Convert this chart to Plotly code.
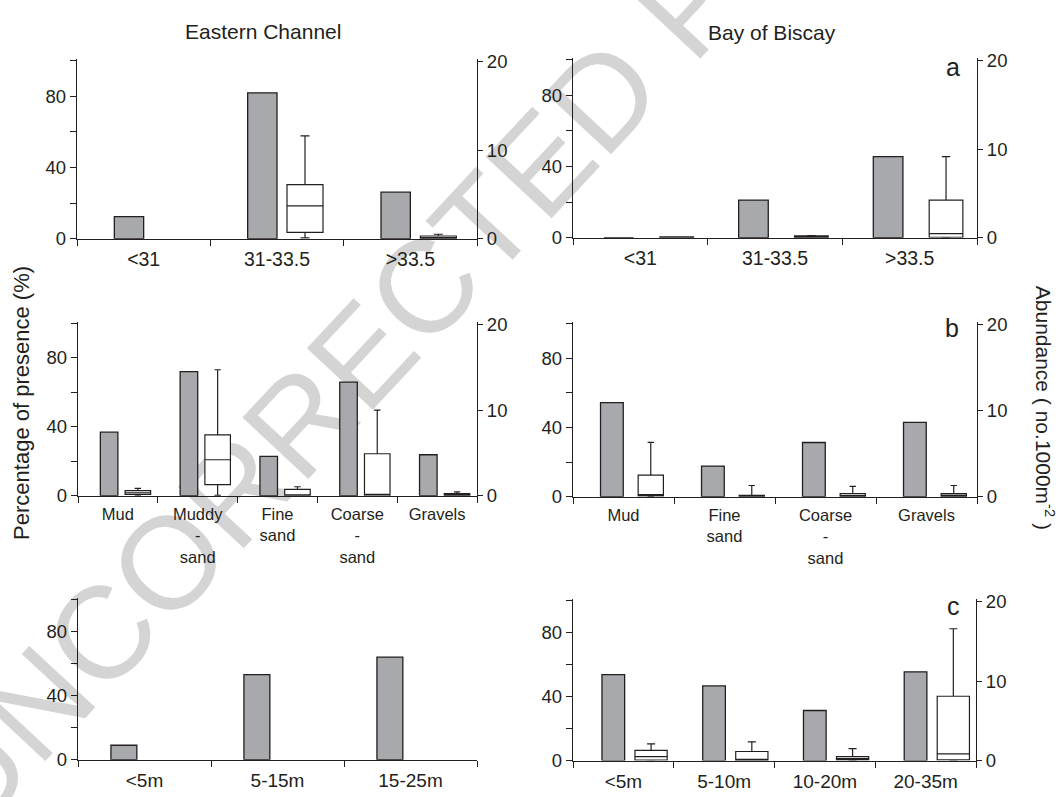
import plotly.graph_objects as go

W, H = 1059, 797

# ---------------- data ----------------
salinity_ec = ["<31", "31-33.5", ">33.5"]
presence_sal_ec = [12.4, 81.9, 26.1]
abund_sal_ec_q1 = [None, 0.7, 0.0]
abund_sal_ec_med = [None, 3.7, 0.05]
abund_sal_ec_q3 = [None, 6.1, 0.3]
abund_sal_ec_lo = [None, 0.1, 0.0]
abund_sal_ec_hi = [None, 11.6, 0.5]

salinity_bb = ["<31", "31-33.5", ">33.5"]
presence_sal_bb = [0.0, 21.1, 45.5]
abund_sal_bb_q1 = [0.0, 0.0, 0.05]
abund_sal_bb_med = [0.0, 0.05, 0.45]
abund_sal_bb_q3 = [0.1, 0.2, 4.25]
abund_sal_bb_lo = [0.0, 0.0, 0.0]
abund_sal_bb_hi = [0.1, 0.25, 9.15]

sediment_ec = ["Mud", "Muddy<br>-<br>sand", "Fine<br>sand", "Coarse<br>-<br>sand", "Gravels"]
presence_sed_ec = [36.9, 72.1, 22.9, 65.9, 23.8]
abund_sed_ec_q1 = [0.15, 1.3, 0.0, 0.0, 0.0]
abund_sed_ec_med = [0.35, 4.2, 0.05, 0.15, 0.1]
abund_sed_ec_q3 = [0.6, 7.1, 0.75, 4.9, 0.25]
abund_sed_ec_lo = [0.0, 0.05, 0.0, 0.0, 0.0]
abund_sed_ec_hi = [0.85, 14.7, 1.05, 10.0, 0.45]

sediment_bb = ["Mud", "Fine<br>sand", "Coarse<br>-<br>sand", "Gravels"]
presence_sed_bb = [54.3, 17.7, 31.3, 42.9]
abund_sed_bb_q1 = [0.1, 0.0, 0.0, 0.0]
abund_sed_bb_med = [0.25, 0.05, 0.1, 0.15]
abund_sed_bb_q3 = [2.5, 0.15, 0.35, 0.35]
abund_sed_bb_lo = [0.0, 0.0, 0.0, 0.0]
abund_sed_bb_hi = [6.3, 1.3, 1.2, 1.3]

depth_ec = ["<5m", "5-15m", "15-25m"]
presence_dep_ec = [9.0, 53.2, 64.2]

depth_bb = ["<5m", "5-10m", "10-20m", "20-35m"]
presence_dep_bb = [53.8, 46.8, 31.4, 55.6]
abund_dep_bb_q1 = [0.05, 0.0, 0.1, 0.1]
abund_dep_bb_med = [0.5, 0.15, 0.25, 0.85]
abund_dep_bb_q3 = [1.3, 1.15, 0.5, 8.1]
abund_dep_bb_lo = [0.0, 0.0, 0.0, 0.0]
abund_dep_bb_hi = [2.1, 2.35, 1.5, 16.6]

left_ticks = [0, 20, 40, 60, 80, 100]
left_ticktext = ["0", "", "40", "", "80", ""]
right_ticks = [0, 10, 20]

# ---------------- styling / layout ----------------
FONT = "Liberation Sans, Arial, Helvetica, sans-serif"
INK = "#231f20"
BAR_GRAY = "#a7a9ac"

panels = [
    dict(cats=salinity_ec, pres=presence_sal_ec,
         box=(abund_sal_ec_q1, abund_sal_ec_med, abund_sal_ec_q3, abund_sal_ec_lo, abund_sal_ec_hi),
         px=(77, 477), py=(52, 236), goff=0.39, gw=0.22, boff=0.71, bw=0.27, fs=19.5),
    dict(cats=salinity_bb, pres=presence_sal_bb,
         box=(abund_sal_bb_q1, abund_sal_bb_med, abund_sal_bb_q3, abund_sal_bb_lo, abund_sal_bb_hi),
         px=(573, 977), py=(51, 235), goff=0.34, gw=0.22, boff=0.77, bw=0.25, fs=19.5),
    dict(cats=sediment_ec, pres=presence_sed_ec,
         box=(abund_sed_ec_q1, abund_sed_ec_med, abund_sed_ec_q3, abund_sed_ec_lo, abund_sed_ec_hi),
         px=(78, 477), py=(321, 499), goff=0.39, gw=0.22, boff=0.75, bw=0.32, fs=16.5),
    dict(cats=sediment_bb, pres=presence_sed_bb,
         box=(abund_sed_bb_q1, abund_sed_bb_med, abund_sed_bb_q3, abund_sed_bb_lo, abund_sed_bb_hi),
         px=(573, 977), py=(321, 500), goff=0.385, gw=0.225, boff=0.77, bw=0.25, fs=16.5),
    dict(cats=depth_ec, pres=presence_dep_ec, box=None,
         px=(78, 477), py=(604, 769), goff=0.345, gw=0.195, boff=0.7, bw=0.25, fs=19),
    dict(cats=depth_bb, pres=presence_dep_bb,
         box=(abund_dep_bb_q1, abund_dep_bb_med, abund_dep_bb_q3, abund_dep_bb_lo, abund_dep_bb_hi),
         px=(573, 976), py=(605, 770), goff=0.4, gw=0.225, boff=0.775, bw=0.32, fs=19),
]

fig = go.Figure()
layout = dict(
    width=W, height=H,
    margin=dict(l=0, r=0, t=0, b=0),
    paper_bgcolor="white", plot_bgcolor="rgba(0,0,0,0)",
    showlegend=False,
    font=dict(family=FONT, size=18, color=INK),
)

for i, p in enumerate(panels):
    n = len(p["cats"])
    xname = "x" if i == 0 else f"x{i+1}"
    yl = "y" if i == 0 else f"y{2*i+1}"
    yr = f"y{2*i+2}"
    xkey = "xaxis" if i == 0 else f"xaxis{i+1}"
    ylkey = "yaxis" if i == 0 else f"yaxis{2*i+1}"
    yrkey = f"yaxis{2*i+2}"

    dom_x = [p["px"][0] / W, p["px"][1] / W]
    dom_y = [1 - p["py"][1] / H, 1 - p["py"][0] / H]

    layout[xkey] = dict(
        domain=dom_x, range=[0, n], anchor=yl,
        showline=True, linecolor=INK, linewidth=1.3,
        showgrid=False, zeroline=False,
        tickmode="array", tickvals=[k + 0.5 for k in range(n)], ticktext=p["cats"],
        ticks="", ticklabelstandoff=3,
        tickfont=dict(size=p["fs"]),
        minor=dict(tickmode="array", tickvals=list(range(n + 1)), ticks="outside",
                   ticklen=6, tickwidth=1.3, tickcolor=INK, showgrid=False),
    )
    layout[ylkey] = dict(
        domain=dom_y, range=[0, 101], anchor=xname, side="left",
        showline=True, linecolor=INK, linewidth=1.3,
        showgrid=False, zeroline=False,
        tickmode="array", tickvals=left_ticks, ticktext=left_ticktext,
        ticks="outside", ticklen=6, tickwidth=1.2, tickcolor=INK,
        tickfont=dict(size=18.5),
    )
    layout[yrkey] = dict(
        domain=dom_y, range=[0, 20.3], anchor=xname, side="right", overlaying=yl,
        showline=True, linecolor=INK, linewidth=1.3,
        showgrid=False, zeroline=False,
        tickmode="array", tickvals=right_ticks,
        ticks="outside", ticklen=5, tickwidth=1.2, tickcolor=INK,
        tickfont=dict(size=18.5),
    )

    fig.add_trace(go.Bar(
        x=[k + p["goff"] for k in range(n)], y=p["pres"], width=p["gw"],
        marker=dict(color=BAR_GRAY, line=dict(color=INK, width=1.3)),
        xaxis=xname, yaxis=yl, hoverinfo="skip",
    ))

    if p["box"] is not None:
        q1, med, q3, lo, hi = p["box"]
        for k in range(n):
            if q1[k] is None:
                continue
            fig.add_trace(go.Box(
                x=[k + p["boff"]], q1=[q1[k]], median=[med[k]], q3=[q3[k]],
                lowerfence=[lo[k]], upperfence=[hi[k]],
                width=p["bw"], whiskerwidth=0.25,
                fillcolor="white", line=dict(color=INK, width=1.2),
                boxpoints=False, xaxis=xname, yaxis=yr, hoverinfo="skip",
            ))

annotations = [
    dict(text="Eastern Channel", x=263 / W, y=1 - 24 / H, xref="paper", yref="paper",
         showarrow=False, font=dict(size=21), xanchor="center", yanchor="middle"),
    dict(text="Bay of Biscay", x=772 / W, y=1 - 25 / H, xref="paper", yref="paper",
         showarrow=False, font=dict(size=21), xanchor="center", yanchor="middle"),
    dict(text="a", x=953 / W, y=1 - 60 / H, xref="paper", yref="paper",
         showarrow=False, font=dict(size=25), xanchor="center", yanchor="middle"),
    dict(text="b", x=952 / W, y=1 - 327 / H, xref="paper", yref="paper",
         showarrow=False, font=dict(size=25), xanchor="center", yanchor="middle"),
    dict(text="c", x=953 / W, y=1 - 612 / H, xref="paper", yref="paper",
         showarrow=False, font=dict(size=25), xanchor="center", yanchor="middle"),
    dict(text="Percentage of presence (%)", x=22 / W, y=1 - 404 / H, xref="paper", yref="paper",
         showarrow=False, font=dict(size=22), textangle=-90, xanchor="center", yanchor="middle"),
    dict(text="Abundance ( no.1000m<sup>-2</sup> )", x=1045 / W, y=1 - 409 / H,
         xref="paper", yref="paper",
         showarrow=False, font=dict(size=21), textangle=90, xanchor="center", yanchor="middle"),
]
layout["annotations"] = annotations

# watermark behind the plots
layout["shapes"] = [
    dict(type="rect", xref="paper", yref="paper",
         x0=(450 - 5) / W, x1=(450 + 5) / W, y0=1 - (240 + 5) / H, y1=1 - (240 - 5) / H,
         line=dict(width=0), fillcolor="rgba(0,0,0,0)", layer="below",
         label=dict(text="UNCORRECTED PROOF", textangle=-47, textposition="middle center",
                    font=dict(family=FONT, size=131, color="#d4d4d5"))),
]

fig.update_layout(**layout)
fig.write_html("out.html", config={"displayModeBar": False},
               post_script="document.body.style.margin='0';")
